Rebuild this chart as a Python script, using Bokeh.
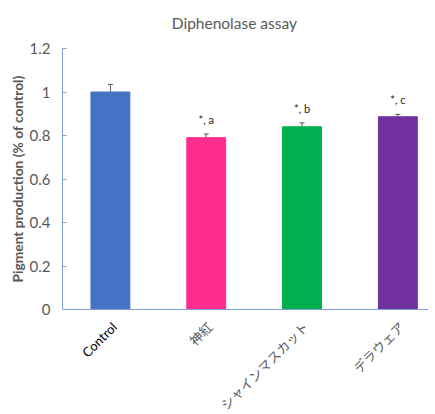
import math
from bokeh.plotting import figure
from bokeh.layouts import column
from bokeh.models import (ColumnDataSource, Range1d, FixedTicker, CustomJSTickFormatter,
                          Whisker, TeeHead)
from bokeh.core.properties import value
from bokeh.embed import file_html
from bokeh.resources import INLINE

title_text = "Diphenolase assay"
categories = ["Control", "神紅", "シャインマスカット", "デラウェア"]
means = [1.0, 0.79, 0.84, 0.886]
errors = [0.035, 0.017, 0.018, 0.011]
notes = ["", "*, a", "*, b", "*, c"]
colors = ["#4472C4", "#FF2D8E", "#00B050", "#7030A0"]
label_colors = ["#000000", "#595959", "#595959", "#595959"]
y_ticks = [0, 0.2, 0.4, 0.6, 0.8, 1.0, 1.2]

FONT = "Lato, 'Noto Sans CJK JP', sans-serif"
AXIS_BLUE = "#7EA1DD"
GRAY = "#595959"
W = 428


def bare(fig):
    fig.outline_line_color = None
    fig.xgrid.visible = False
    fig.ygrid.visible = False
    fig.xaxis.visible = False
    fig.yaxis.visible = False


xs = [i + 0.5 for i in range(len(categories))]
src = ColumnDataSource(dict(
    x=xs, top=means, color=colors,
    upper=[m + e for m, e in zip(means, errors)],
    lower=[m - e for m, e in zip(means, errors)],
    note=notes,
))
lab_src = ColumnDataSource(dict(x=xs, y=[1.0] * len(xs), text=categories, color=label_colors))

x_range = Range1d(0, 3.82)

# title strip
t = figure(width=W, height=38, output_backend="svg", toolbar_location=None,
           x_range=Range1d(0, W), y_range=Range1d(0, 38),
           min_border_left=0, min_border_right=0, min_border_top=0, min_border_bottom=0)
bare(t)
t.text(x=[201], y=[16], text=[title_text], text_align="center", text_baseline="middle",
       text_font=value(FONT), text_font_size="15.5px", text_color=GRAY)

# main chart
p = figure(frame_width=366, frame_height=261, output_backend="svg", toolbar_location=None,
           x_range=x_range, y_range=Range1d(0, 1.2),
           min_border_left=62, min_border_right=0, min_border_top=10, min_border_bottom=10)
p.outline_line_color = None
p.xgrid.visible = False
p.ygrid.visible = False

p.vbar(x="x", top="top", width=0.406, color="color", source=src)

w = Whisker(base="x", upper="upper", lower="lower", source=src,
            line_color=GRAY, line_width=1,
            upper_head=TeeHead(size=5, line_color=GRAY),
            lower_head=TeeHead(size=5, line_color=GRAY))
p.add_layout(w)

p.text(x="x", y="upper", text="note", source=src, text_align="center",
       text_baseline="bottom", y_offset=-8, text_font=value(FONT),
       text_font_size="11px", text_color="#262626")

ya = p.yaxis[0]
ya.ticker = FixedTicker(ticks=y_ticks)
ya.formatter = CustomJSTickFormatter(code="return tick.toFixed(1).replace(/\\.0$/, '');")
ya.axis_line_color = AXIS_BLUE
ya.major_tick_line_color = AXIS_BLUE
ya.major_tick_in = 4
ya.major_tick_out = 0
ya.minor_tick_line_color = None
ya.major_label_text_font = FONT
ya.major_label_text_font_size = "15px"
ya.major_label_text_color = GRAY
ya.major_label_standoff = 12
ya.axis_label = "Pigment production (% of control)"
ya.axis_label_text_font = FONT
ya.axis_label_text_font_size = "13.8px"
ya.axis_label_text_font_style = "bold"
ya.axis_label_text_color = GRAY
ya.axis_label_standoff = 1

xa = p.xaxis[0]
xa.ticker = FixedTicker(ticks=[])
xa.axis_line_color = AXIS_BLUE
xa.major_tick_line_color = None
xa.minor_tick_line_color = None
xa.major_label_text_font_size = "0px"
xa.major_label_standoff = 0
xa.major_tick_out = 0
xa.major_tick_in = 0

# strip with rotated category labels
q = figure(width=W, height=95, output_backend="svg", toolbar_location=None,
           x_range=x_range, y_range=Range1d(0, 1),
           min_border_left=62, min_border_right=0, min_border_top=0, min_border_bottom=0)
bare(q)
q.text(x="x", y="y", text="text", source=lab_src, angle=math.pi / 4,
       text_align="right", text_baseline="middle", x_offset=4, y_offset=5,
       text_font=value(FONT), text_font_size="13px", text_color="color")

layout = column(t, p, q, spacing=0)
open("out.html", "w").write(file_html(layout, INLINE))
